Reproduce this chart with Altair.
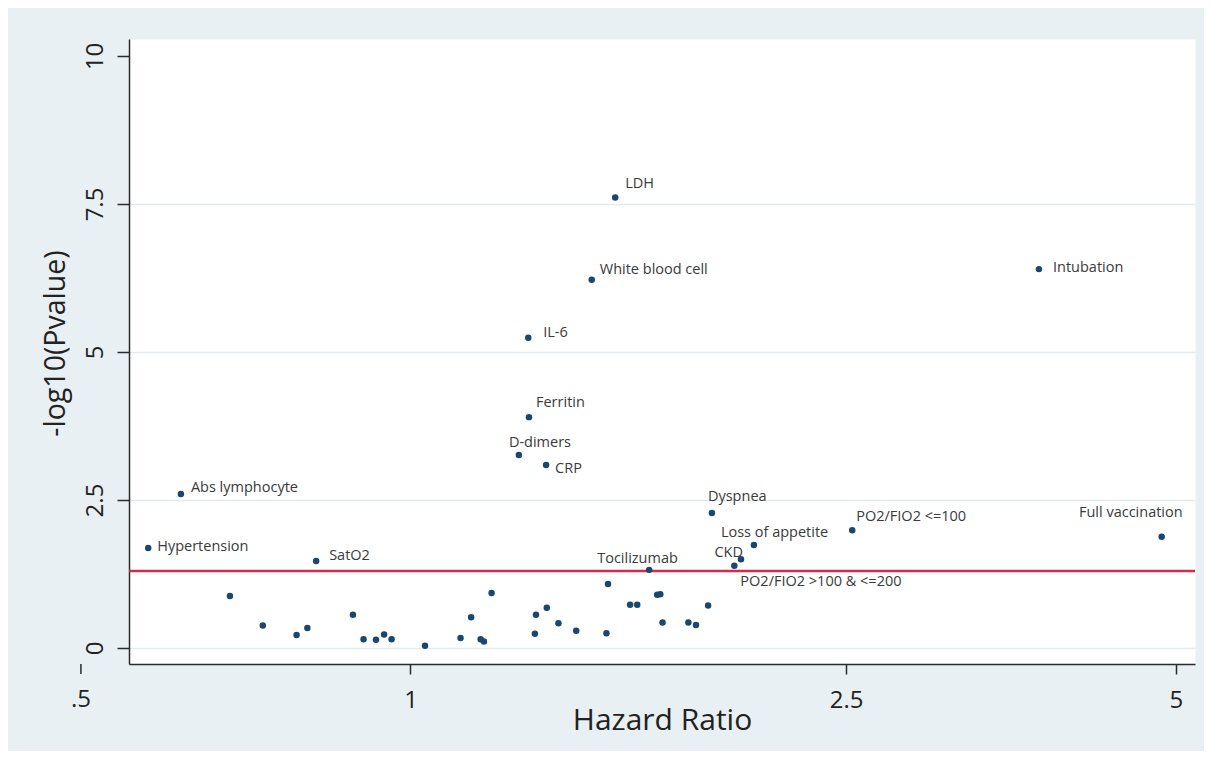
import altair as alt
import pandas as pd

# ---------------- data ----------------
labels = ["LDH", "White blood cell", "Intubation", "IL-6", "Ferritin", "D-dimers", "CRP",
          "Abs lymphocyte", "Hypertension", "SatO2", "Dyspnea", "Loss of appetite",
          "PO2/FIO2 <=100", "Full vaccination", "CKD", "PO2/FIO2 >100 & <=200", "Tocilizumab"]
labeled_hr = [1.538, 1.464, 3.750, 1.281, 1.283, 1.256, 1.330,
              0.617, 0.576, 0.820, 1.885, 2.059,
              2.532, 4.854, 2.004, 1.976, 1.652]
labeled_logp = [7.61, 6.22, 6.40, 5.24, 3.90, 3.26, 3.09,
                2.60, 1.69, 1.47, 2.28, 1.74,
                1.99, 1.88, 1.50, 1.39, 1.32]

other_hr = [0.684, 0.733, 0.787, 0.805, 0.886, 0.906, 0.930, 0.946, 0.961, 1.031,
            1.111, 1.136, 1.159, 1.167, 1.186, 1.299, 1.302, 1.332, 1.365, 1.417,
            1.510, 1.515, 1.587, 1.611, 1.680, 1.691, 1.699, 1.794, 1.823, 1.870]
other_logp = [0.88, 0.38, 0.22, 0.34, 0.56, 0.15, 0.14, 0.23, 0.15, 0.04,
              0.17, 0.52, 0.15, 0.11, 0.93, 0.24, 0.56, 0.68, 0.42, 0.29,
              0.25, 1.08, 0.73, 0.73, 0.90, 0.91, 0.43, 0.43, 0.39, 0.72]

threshold = [1.301]            # -log10(0.05)
x_ticks = [0.5, 1, 2.5, 5]
y_ticks = [0, 2.5, 5, 7.5, 10]

# ---------------- styling ----------------
FONT = "Open Sans"
NAVY = "#1a476f"
TXT = "#3a3a3a"
AX = "#2b2b2b"
W, H = 1066, 625

# label placement (align, dx, dy) relative to each marker
label_style = {
    "LDH": ("left", 10, -13),
    "White blood cell": ("left", 8, -10),
    "Intubation": ("left", 14, -1),
    "IL-6": ("left", 15, -5),
    "Ferritin": ("left", 7, -14),
    "D-dimers": ("left", -10, -12),
    "CRP": ("left", 9, 4),
    "Abs lymphocyte": ("left", 10, -6),
    "Hypertension": ("left", 9, -1),
    "SatO2": ("left", 13, -5),
    "Dyspnea": ("left", -4, -16),
    "Loss of appetite": ("left", -33, -12),
    "PO2/FIO2 <=100": ("left", 4, -13),
    "Full vaccination": ("right", 21, -24),
    "CKD": ("right", 2, -6),
    "PO2/FIO2 >100 & <=200": ("left", 6, 16),
    "Tocilizumab": ("left", -52, -11),
}

pts = pd.DataFrame({
    "hr": labeled_hr + other_hr,
    "logp": labeled_logp + other_logp,
    "label": labels + [""] * len(other_hr),
})
lab = pd.DataFrame({"hr": labeled_hr, "logp": labeled_logp, "label": labels})
thr = pd.DataFrame({"logp": threshold})
outside_tick = pd.DataFrame({"hr": [v for v in x_ticks if v < 0.55],
                             "txt": [".5"]})

xscale = alt.Scale(type="log", domain=[0.5532, 5.2066], nice=False, zero=False)
yscale = alt.Scale(domain=[-0.270, 10.287], nice=False, zero=False)

xaxis = alt.Axis(values=[v for v in x_ticks if v >= 0.55], format=".1~f",
                 labelFontSize=24, labelPadding=14, labelColor="#222",
                 tickSize=10, tickWidth=1.5, tickColor=AX,
                 domainColor=AX, domainWidth=1.5, grid=False,
                 title="Hazard Ratio", titleFontSize=30, titleFontWeight="normal",
                 titleColor="#222", titleBaseline="top", titleY=41)
yaxis = alt.Axis(values=y_ticks, format=".1~f", labelAngle=270, labelAlign="center",
                 labelBaseline="bottom", labelFontSize=24, labelPadding=10,
                 labelColor="#222", tickSize=12, tickWidth=1.5, tickColor=AX,
                 domainColor=AX, domainWidth=1.5, grid=True, gridColor="#e1ebee",
                 gridWidth=1.5,
                 gridOpacity={"condition": {"test": "datum.value === 10", "value": 0}, "value": 1},
                 title="-log10(Pvalue)", titleFontSize=28.5, titleFontWeight="normal",
                 titleColor="#222", titleBaseline="bottom", titleX=-59, titleY=304)

X = alt.X("hr:Q", scale=xscale, axis=xaxis)
Y = alt.Y("logp:Q", scale=yscale, axis=yaxis)

rule = alt.Chart(thr).mark_rule(color="#cf2a4f", strokeWidth=2.5).encode(y=Y)

points = alt.Chart(pts).mark_circle(size=42, color=NAVY, opacity=1).encode(x=X, y=Y)

text_layers = []
for name in labels:
    al, dx, dy = label_style[name]
    text_layers.append(
        alt.Chart(lab).transform_filter(alt.datum.label == name)
        .mark_text(align=al, baseline="middle", dx=dx, dy=dy, font=FONT,
                   fontSize=14.5, color=TXT)
        .encode(x=X, y=Y, text="label:N")
    )

# tick and label for .5, which lies left of the plotted range
half_tick = alt.Chart(outside_tick).mark_rule(color=AX, strokeWidth=1.5).encode(
    x=X, y=alt.value(H), y2=alt.value(H + 10))
half_label = alt.Chart(outside_tick).mark_text(
    font=FONT, fontSize=24, color="#222", baseline="top", align="center", dy=24
).encode(x=X, y=alt.value(H), text="txt:N")

chart = alt.layer(rule, points, *text_layers, half_tick, half_label).properties(
    width=W, height=H,
    autosize=alt.AutoSizeParams(type="none"),
    padding={"left": 121, "top": 31, "right": 9, "bottom": 87},
).configure(
    background="#e8f0f3", font=FONT
).configure_view(fill="white", stroke="transparent")

chart.save("out.html", embed_options={"renderer": "svg", "actions": False})
